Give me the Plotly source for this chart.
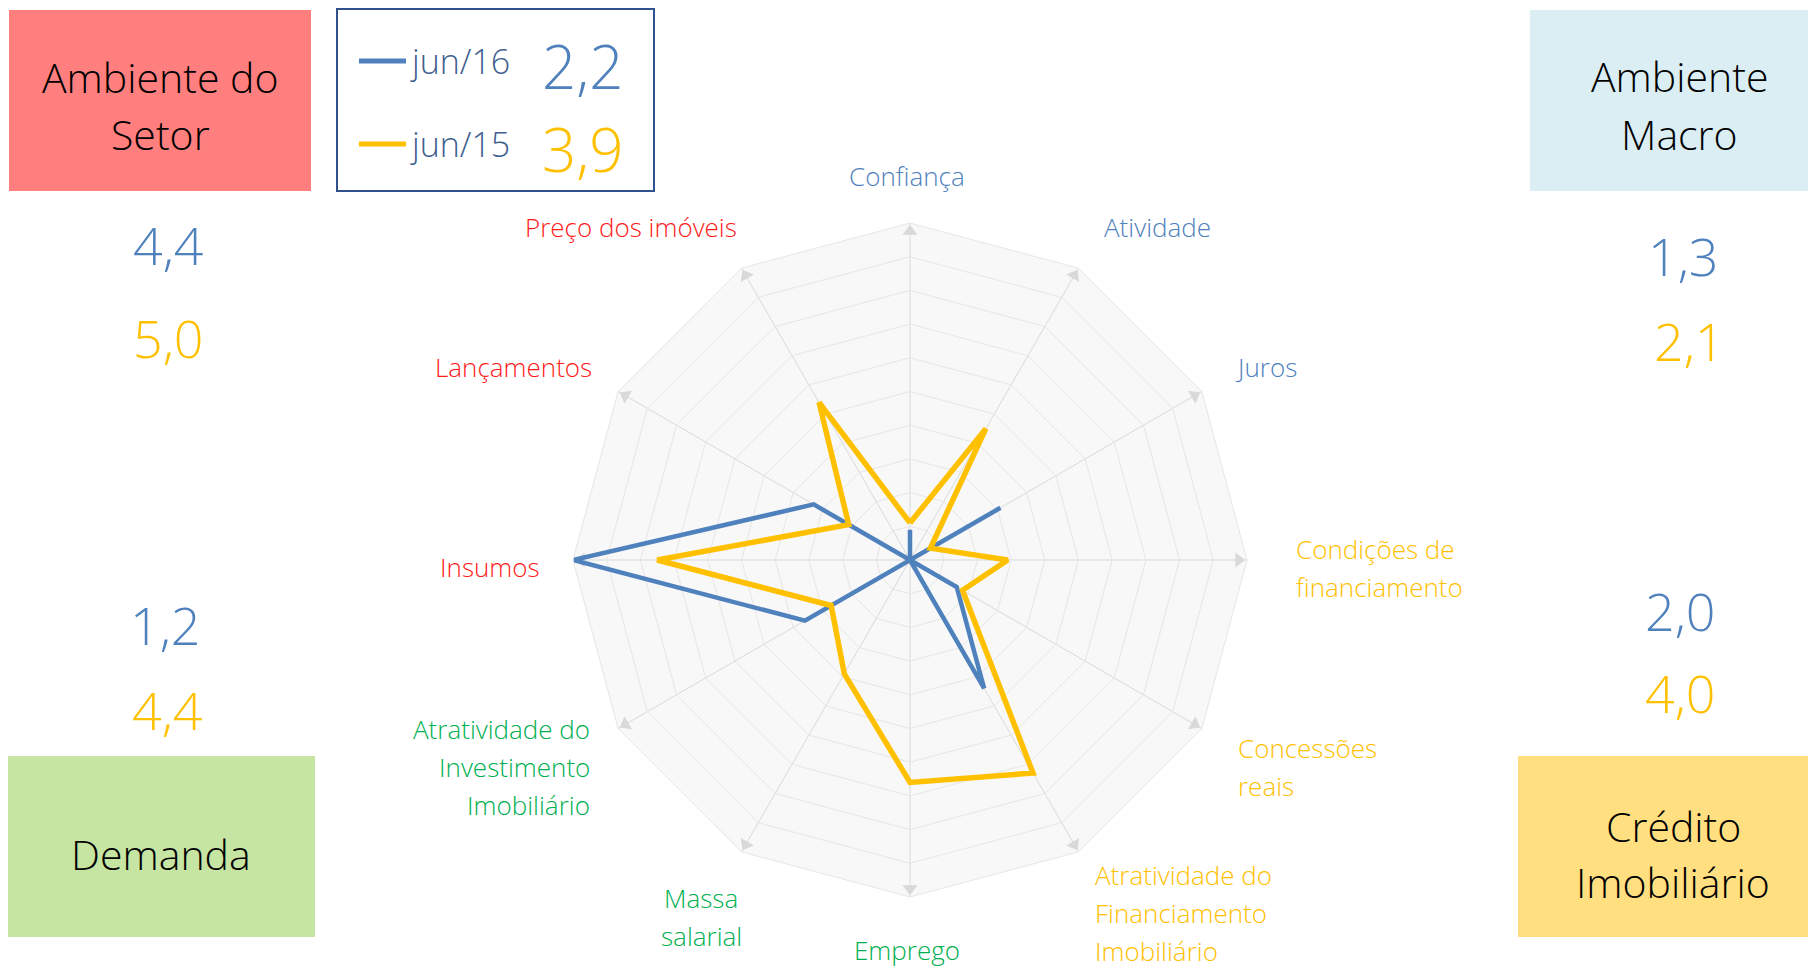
import plotly.graph_objects as go

W, H = 1808, 970

# radar categories (clockwise from the top)
categories = ["Confiança", "Atividade", "Juros", "Condições de financiamento",
              "Concessões reais", "Atratividade do Financiamento Imobiliário",
              "Emprego", "Massa salarial", "Atratividade do Investimento Imobiliário",
              "Insumos", "Lançamentos", "Preço dos imóveis"]
label_lines = [["Confiança"], ["Atividade"], ["Juros"], ["Condições de", "financiamento"],
               ["Concessões", "reais"], ["Atratividade do", "Financiamento", "Imobiliário"],
               ["Emprego"], ["Massa", "salarial"], ["Atratividade do", "Investimento", "Imobiliário"],
               ["Insumos"], ["Lançamentos"], ["Preço dos imóveis"]]
label_group = ["macro", "macro", "macro", "credito", "credito", "credito",
               "demanda", "demanda", "demanda", "setor", "setor", "setor"]

jun16 = [0.9, 0.0, 3.1, 0.0, 1.6, 4.4, 0.0, 0.0, 3.6, 10.0, 3.3, 0.0]
jun15 = [1.1, 4.5, 0.7, 2.9, 1.8, 7.3, 6.6, 3.9, 2.7, 7.5, 2.1, 5.4]

series_names = ["jun/16", "jun/15"]
overall = ["2,2", "3,9"]

groups = ["setor", "macro", "demanda", "credito"]
group_titles = ["Ambiente do<br>Setor", "Ambiente<br>Macro", "Demanda", "Crédito<br>Imobiliário"]
group_jun16 = ["4,4", "1,3", "1,2", "2,0"]
group_jun15 = ["5,0", "2,1", "4,4", "4,0"]

BLUE = "#4f81bd"
GOLD = "#ffc000"
group_colors = {"macro": BLUE, "credito": GOLD, "demanda": "#00b050", "setor": "#ff1a1a"}
box_fill = {"setor": "#ff7f7f", "macro": "#dbeef4", "demanda": "#c6e4a2", "credito": "#ffdf80"}

FONT = "Open Sans"


def px(x):
    return x / W


def py(y):
    return 1 - y / H


fig = go.Figure()

# axis arrowheads at the outer ring
rmax = 10
fig.add_trace(go.Scatterpolar(
    r=[rmax - 0.25] * len(categories), theta=categories, mode="markers",
    marker=dict(symbol="triangle-up", size=13, color="#d9d9d9",
                angle=[i * 360 / len(categories) for i in range(len(categories))]),
    hoverinfo="skip", showlegend=False))

for name, vals, col, w in [("jun/16", jun16, BLUE, 4.5), ("jun/15", jun15, GOLD, 5.5)]:
    fig.add_trace(go.Scatterpolar(
        r=vals + vals[:1], theta=categories + categories[:1], mode="lines", name=name,
        line=dict(color=col, width=w), showlegend=False))

cx, cy, rad = 910, 560, 337
fig.update_layout(
    width=W, height=H, margin=dict(l=0, r=0, t=0, b=0),
    paper_bgcolor="white", plot_bgcolor="white",
    font=dict(family=FONT, weight=300),
    polar=dict(
        domain=dict(x=[px(cx - rad), px(cx + rad)], y=[py(cy + rad), py(cy - rad)]),
        bgcolor="#f8f8f8", gridshape="linear",
        radialaxis=dict(range=[0, rmax], dtick=1, showticklabels=False, ticks="",
                        showline=False, gridcolor="#e6e6e6", gridwidth=1),
        angularaxis=dict(rotation=90, direction="clockwise", showticklabels=False,
                         ticks="", gridcolor="#d9d9d9", linecolor="#e6e6e6", linewidth=1),
    ),
)

ann = []

# category labels around the radar
label_pos = [(907, 176, "center"), (1157, 227, "center"), (1266, 367, "center"),
             (1294, 549, "left"), (1236, 748, "left"), (1093, 875, "left"),
             (907, 950, "center"), (701, 898, "center"), (592, 729, "right"),
             (490, 567, "center"), (513, 367, "center"), (631, 227, "center")]
for lines, grp, (x, y, anchor) in zip(label_lines, label_group, label_pos):
    for k, txt in enumerate(lines):
        ann.append(dict(x=px(x), y=py(y + 38 * k), xref="paper", yref="paper", text=txt,
                        showarrow=False, xanchor=anchor, yanchor="middle",
                        font=dict(size=26, color=group_colors[grp], family=FONT, weight=300)))

# group boxes with titles and averages
shapes = []
box_rect = {"setor": (9, 10, 311, 191), "macro": (1530, 10, 1808, 191),
            "demanda": (8, 756, 315, 937), "credito": (1518, 756, 1808, 937)}
title_x = {"setor": 160, "macro": 1679, "demanda": 161, "credito": 1673}
title_y = {"setor": [77, 134], "macro": [76, 134], "demanda": [854], "credito": [826, 882]}
num_pos = {"setor": [(168, 244), (168, 337)], "macro": [(1683, 256), (1689, 340)],
           "demanda": [(165, 624), (167, 709)], "credito": [(1680, 610), (1680, 692)]}
for g, title, v16, v15 in zip(groups, group_titles, group_jun16, group_jun15):
    x0, y0, x1, y1 = box_rect[g]
    shapes.append(dict(type="rect", xref="paper", yref="paper", x0=px(x0), x1=px(x1),
                       y0=py(y1), y1=py(y0), fillcolor=box_fill[g], line=dict(width=0), layer="below"))
    for txt, yy in zip(title.split("<br>"), title_y[g]):
        ann.append(dict(x=px(title_x[g]), y=py(yy), xref="paper", yref="paper", text=txt,
                        showarrow=False, xanchor="center", yanchor="middle",
                        font=dict(size=41, color="black", family=FONT, weight=300)))
    for txt, col, (x, y) in zip([v16, v15], [BLUE, GOLD], num_pos[g]):
        ann.append(dict(x=px(x), y=py(y), xref="paper", yref="paper", text=txt, showarrow=False,
                        xanchor="center", yanchor="middle",
                        font=dict(size=52, color=col, family=FONT, weight=300)))

# legend box
shapes.append(dict(type="rect", xref="paper", yref="paper", x0=px(337), x1=px(654),
                   y0=py(191), y1=py(9), line=dict(color="#2f528f", width=2)))
for name, val, col, yy in zip(series_names, overall, [BLUE, GOLD], [61, 144]):
    shapes.append(dict(type="line", xref="paper", yref="paper", x0=px(359), x1=px(406),
                       y0=py(yy), y1=py(yy), line=dict(color=col, width=5)))
    ann.append(dict(x=px(408), y=py(yy), xref="paper", yref="paper", text=name, showarrow=False,
                    xanchor="left", yanchor="middle",
                    font=dict(size=34, color="#3f5f8f", family=FONT, weight=300)))
    ann.append(dict(x=px(582), y=py(yy + 5), xref="paper", yref="paper", text=val, showarrow=False,
                    xanchor="center", yanchor="middle",
                    font=dict(size=60, color=col, family=FONT, weight=300)))

fig.update_layout(annotations=ann, shapes=shapes)
# drop the browser's default page margin so the figure sits at the window's corner
fig.write_html("out.html", config={"displayModeBar": False},
               post_script="document.body.style.margin='0';")
